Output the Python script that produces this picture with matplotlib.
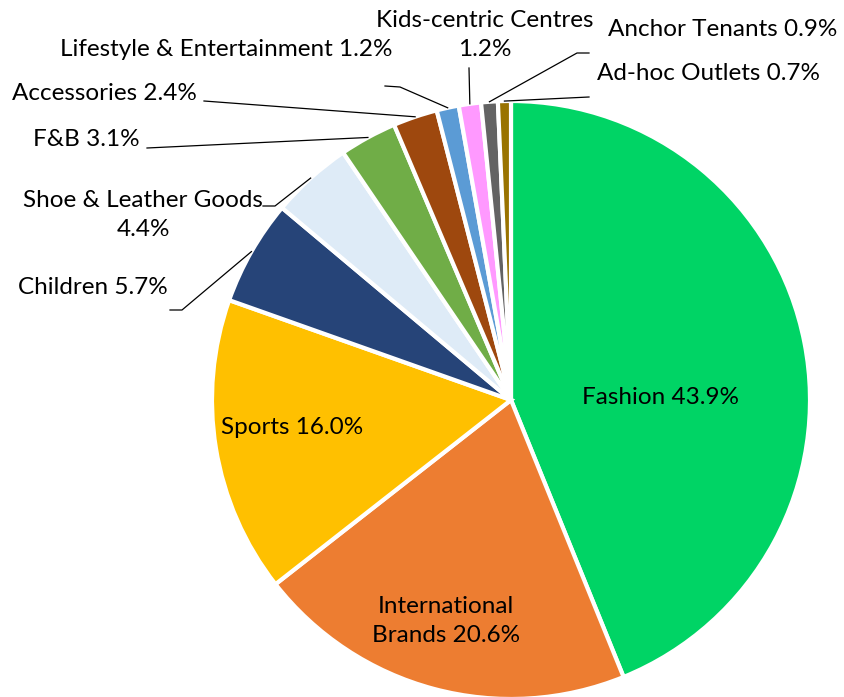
import numpy as np
import matplotlib.pyplot as plt

plt.rcParams['font.family'] = ['Lato', 'DejaVu Sans']

# Категорії та частки (%)
labels = ['Fashion', 'International Brands', 'Sports', 'Children',
          'Shoe & Leather Goods', 'F&B', 'Accessories',
          'Lifestyle & Entertainment', 'Kids-centric Centres',
          'Anchor Tenants', 'Ad-hoc Outlets']
shares = [43.9, 20.6, 16.0, 5.7, 4.4, 3.1, 2.4, 1.2, 1.2, 0.9, 0.7]
colors = ['#00D465', '#ED7D31', '#FFC000', '#264478', '#DEEBF7', '#70AD47',
          '#9E480E', '#5B9BD5', '#FF99FF', '#636363', '#997300']

W, H = 844, 697
CX, CY, R = 511, 400, 299


def px(x, y):
    # піксель -> координати осей
    return (x - CX) / R, (CY - y) / R


fig = plt.figure(figsize=(W / 100, H / 100), dpi=100)
ax = fig.add_axes([0, 0, 1, 1])

wedges, _ = ax.pie(shares, colors=colors, startangle=90, counterclock=False,
                   radius=1, wedgeprops=dict(edgecolor='white', linewidth=3))

ax.set_aspect('auto')
ax.set_xlim(px(0, 0)[0], px(W, 0)[0])
ax.set_ylim(px(0, H)[1], px(0, 0)[1])
ax.axis('off')

fs = 17.5
ls = 1.5
texts = [f'{l} {v:.1f}%' for l, v in zip(labels, shares)]

# Підписи всередині
ax.text(*px(660, 397), texts[0], ha='center', va='center', fontsize=fs)
ax.text(*px(446, 621), 'International\nBrands 20.6%', ha='center', va='center',
        fontsize=fs, linespacing=ls)
ax.text(*px(292, 428), texts[2], ha='center', va='center', fontsize=fs)

# Зовнішні підписи: (позиція тексту, вирівнювання, точки лінії)
outside = {
    3: ((168, 288), 'right', texts[3], [(182, 310), (170, 310)]),
    4: ((143, 215), 'center', 'Shoe & Leather Goods\n4.4%', [(275, 206), (263, 206)]),
    5: ((140, 140), 'right', texts[5], [(147, 148)]),
    6: ((197, 94), 'right', texts[6], [(204, 101)]),
    7: ((393, 49), 'right', texts[7], [(400, 87), (385, 86)]),
    8: ((485, 35), 'center', 'Kids-centric Centres\n1.2%', [(469, 68)]),
    9: ((608, 29), 'left', texts[9], [(577, 53), (589, 53)]),
    10: ((597, 74), 'left', texts[10], [(589, 97)]),
}

for i, (pos, ha, txt, pts) in outside.items():
    w = wedges[i]
    ang = np.deg2rad((w.theta1 + w.theta2) / 2)
    start = (np.cos(ang), np.sin(ang))
    line = [start] + [px(*p) for p in pts]
    xs, ys = zip(*line)
    ax.plot(xs, ys, color='black', linewidth=0.9)
    ax.text(*px(*pos), txt, ha=ha, va='center', fontsize=fs, linespacing=ls)

fig.savefig('out.png', dpi=100)
